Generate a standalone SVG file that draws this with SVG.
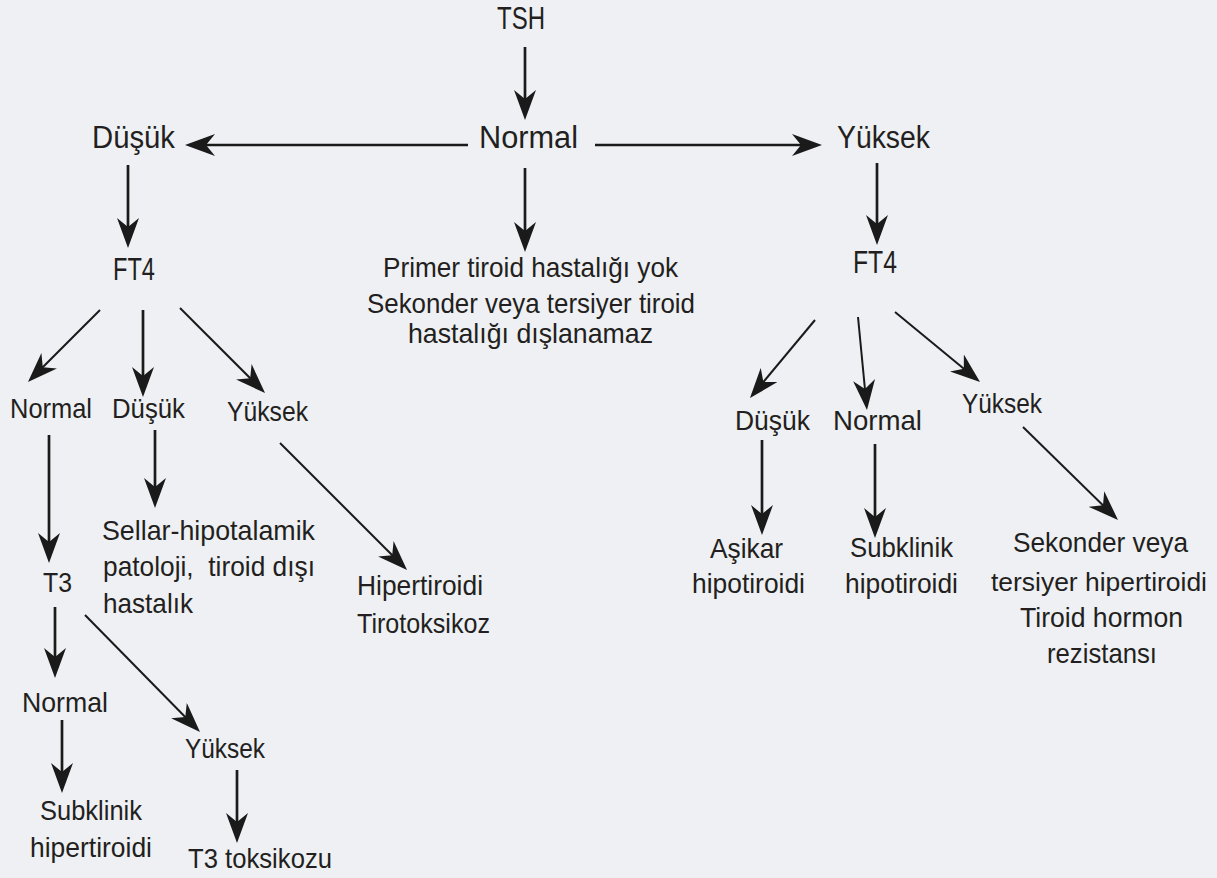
<svg xmlns="http://www.w3.org/2000/svg" width="1217" height="878" viewBox="0 0 1217 878">
<defs>
<style>
text{font-family:"Liberation Sans",Arial,sans-serif;fill:#231f20;}
.big{font-size:31px;}
.sm{font-size:28px;}
.c{stroke:#1a1a1a;fill:none;}
.v{stroke-width:2.7;}
.d{stroke-width:2;}
</style>
<marker id="ah" viewBox="-24 -11 30 22" refX="0" refY="0" markerWidth="30" markerHeight="22" orient="auto" markerUnits="userSpaceOnUse">
<path d="M6,0 L-24,-11 L-15,0 L-24,11 Z" fill="#1a1a1a"/>
</marker>
</defs>
<rect width="1217" height="878" fill="#eef0f3"/>
<g id="connectors" class="c">
<line class="v" x1="525" y1="47" x2="525" y2="114" marker-end="url(#ah)"/>
<line class="v" x1="468" y1="145" x2="191" y2="145" marker-end="url(#ah)"/>
<line class="v" x1="595" y1="145" x2="816" y2="145" marker-end="url(#ah)"/>
<line class="v" x1="525" y1="168" x2="525" y2="246" marker-end="url(#ah)"/>
<line class="v" x1="128" y1="165" x2="128" y2="242" marker-end="url(#ah)"/>
<line class="v" x1="877" y1="163" x2="877" y2="239" marker-end="url(#ah)"/>
<line class="d" x1="100" y1="310" x2="32.2" y2="377.8" marker-end="url(#ah)"/>
<line class="v" x1="143" y1="310" x2="143" y2="391" marker-end="url(#ah)"/>
<line class="d" x1="180" y1="308" x2="260.8" y2="388.8" marker-end="url(#ah)"/>
<line class="v" x1="49" y1="435" x2="49" y2="557" marker-end="url(#ah)"/>
<line class="v" x1="155" y1="430" x2="155" y2="502" marker-end="url(#ah)"/>
<line class="d" x1="280" y1="443" x2="402.8" y2="565.8" marker-end="url(#ah)"/>
<line class="v" x1="55" y1="607" x2="55" y2="672" marker-end="url(#ah)"/>
<line class="d" x1="85" y1="615" x2="195.8" y2="727.7" marker-end="url(#ah)"/>
<line class="v" x1="62" y1="720" x2="62" y2="787" marker-end="url(#ah)"/>
<line class="v" x1="237" y1="770" x2="237" y2="837" marker-end="url(#ah)"/>
<line class="d" x1="815" y1="320" x2="753.8" y2="393.4" marker-end="url(#ah)"/>
<line class="d" x1="858" y1="317" x2="866.4" y2="404" marker-end="url(#ah)"/>
<line class="d" x1="895" y1="312" x2="975.4" y2="378.2" marker-end="url(#ah)"/>
<line class="v" x1="762" y1="440" x2="762" y2="529" marker-end="url(#ah)"/>
<line class="v" x1="875" y1="444" x2="875" y2="532" marker-end="url(#ah)"/>
<line class="d" x1="1023" y1="427" x2="1113.7" y2="515.8" marker-end="url(#ah)"/>
</g>
<g id="n-tsh"><text class="big" x="497" y="29" textLength="48" lengthAdjust="spacingAndGlyphs">TSH</text></g>
<g id="n-normal"><text class="big" x="479" y="148" textLength="99" lengthAdjust="spacingAndGlyphs">Normal</text></g>
<g id="n-dusuk"><text class="big" x="92" y="148" textLength="83" lengthAdjust="spacingAndGlyphs">Düşük</text></g>
<g id="n-yuksek"><text class="big" x="837" y="148" textLength="93" lengthAdjust="spacingAndGlyphs">Yüksek</text></g>
<g id="n-ft4-left"><text class="big" x="113" y="280" textLength="42" lengthAdjust="spacingAndGlyphs">FT4</text></g>
<g id="n-ft4-right"><text class="big" x="853" y="273" textLength="44" lengthAdjust="spacingAndGlyphs">FT4</text></g>
<g id="n-primer">
<text class="sm" x="383" y="277" textLength="295" lengthAdjust="spacingAndGlyphs">Primer tiroid hastalığı yok</text>
<text class="sm" x="367" y="313" textLength="328" lengthAdjust="spacingAndGlyphs">Sekonder veya tersiyer tiroid</text>
<text class="sm" x="408" y="343" textLength="245" lengthAdjust="spacingAndGlyphs">hastalığı dışlanamaz</text>
</g>
<g id="n-l-normal"><text class="sm" x="10" y="418" textLength="82" lengthAdjust="spacingAndGlyphs">Normal</text></g>
<g id="n-l-dusuk"><text class="sm" x="112" y="418" textLength="73" lengthAdjust="spacingAndGlyphs">Düşük</text></g>
<g id="n-l-yuksek"><text class="sm" x="227" y="421" textLength="81" lengthAdjust="spacingAndGlyphs">Yüksek</text></g>
<g id="n-t3"><text class="sm" x="43" y="592" textLength="29" lengthAdjust="spacingAndGlyphs">T3</text></g>
<g id="n-sellar">
<text class="sm" x="102" y="540" textLength="213" lengthAdjust="spacingAndGlyphs">Sellar-hipotalamik</text>
<text class="sm" x="103" y="576" textLength="212" lengthAdjust="spacingAndGlyphs" xml:space="preserve">patoloji,  tiroid dışı</text>
<text class="sm" x="103" y="613" textLength="90" lengthAdjust="spacingAndGlyphs">hastalık</text>
</g>
<g id="n-hipertiroidi">
<text class="sm" x="357" y="595" textLength="126" lengthAdjust="spacingAndGlyphs">Hipertiroidi</text>
<text class="sm" x="357" y="633" textLength="133" lengthAdjust="spacingAndGlyphs">Tirotoksikoz</text>
</g>
<g id="n-t3-normal"><text class="sm" x="22" y="712" textLength="86" lengthAdjust="spacingAndGlyphs">Normal</text></g>
<g id="n-t3-yuksek"><text class="sm" x="185" y="758" textLength="80" lengthAdjust="spacingAndGlyphs">Yüksek</text></g>
<g id="n-subklinik-hiper">
<text class="sm" x="40" y="820" textLength="102" lengthAdjust="spacingAndGlyphs">Subklinik</text>
<text class="sm" x="30" y="857" textLength="122" lengthAdjust="spacingAndGlyphs">hipertiroidi</text>
</g>
<g id="n-t3-toksikozu"><text class="sm" x="188" y="868" textLength="144" lengthAdjust="spacingAndGlyphs">T3 toksikozu</text></g>
<g id="n-r-dusuk"><text class="sm" x="735" y="430" textLength="75" lengthAdjust="spacingAndGlyphs">Düşük</text></g>
<g id="n-r-normal"><text class="sm" x="833" y="430" textLength="89" lengthAdjust="spacingAndGlyphs">Normal</text></g>
<g id="n-r-yuksek"><text class="sm" x="962" y="413" textLength="80" lengthAdjust="spacingAndGlyphs">Yüksek</text></g>
<g id="n-asikar">
<text class="sm" x="710" y="558" textLength="73" lengthAdjust="spacingAndGlyphs">Aşikar</text>
<text class="sm" x="692" y="593" textLength="113" lengthAdjust="spacingAndGlyphs">hipotiroidi</text>
</g>
<g id="n-subklinik-hipo">
<text class="sm" x="850" y="557" textLength="103" lengthAdjust="spacingAndGlyphs">Subklinik</text>
<text class="sm" x="845" y="593" textLength="113" lengthAdjust="spacingAndGlyphs">hipotiroidi</text>
</g>
<g id="n-sekonder">
<text class="sm" x="1013" y="552" textLength="175" lengthAdjust="spacingAndGlyphs">Sekonder veya</text>
<text x="991" y="591" font-size="26.5" textLength="216" lengthAdjust="spacingAndGlyphs">tersiyer hipertiroidi</text>
<text class="sm" x="1020" y="627" textLength="163" lengthAdjust="spacingAndGlyphs">Tiroid hormon</text>
<text class="sm" x="1047" y="663" textLength="110" lengthAdjust="spacingAndGlyphs">rezistansı</text>
</g>
</svg>
